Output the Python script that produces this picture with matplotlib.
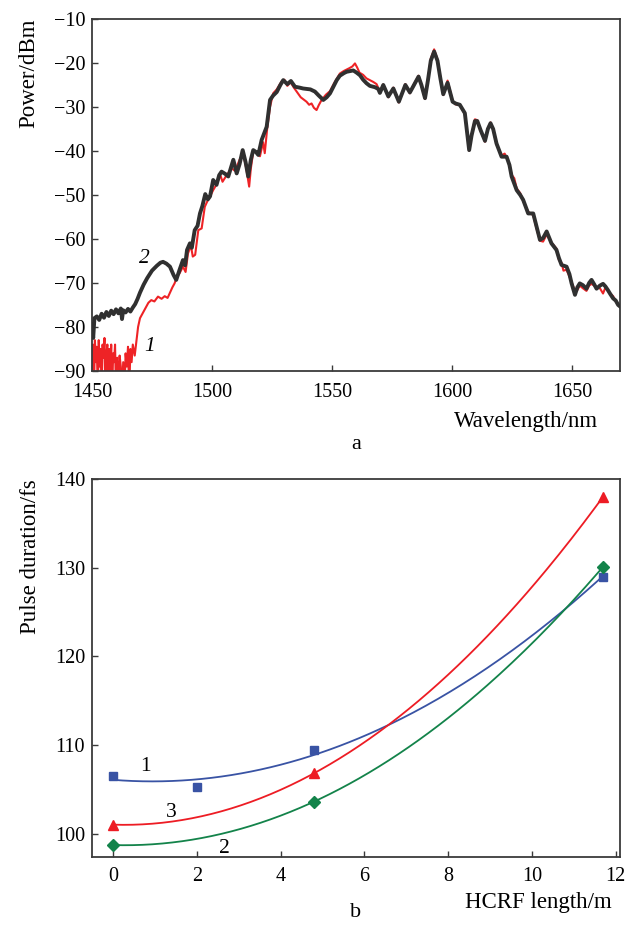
import numpy as np
import matplotlib
matplotlib.use("Agg")
import matplotlib.pyplot as plt

plt.rcParams['font.family'] = ['Liberation Serif', 'DejaVu Serif']
plt.rcParams['font.size'] = 14.5

# spectrum, curve 1 (red) and curve 2 (black)
wl1 = [1450.0, 1450.4, 1450.8, 1451.2, 1451.6, 1452.0, 1452.4, 1452.8, 1453.2, 1453.6,
       1454.0, 1454.4, 1454.8, 1455.2, 1455.6, 1456.0, 1456.4, 1456.8, 1457.2, 1457.6,
       1458.0, 1458.4, 1458.8, 1459.2, 1459.6, 1460.0, 1460.5, 1461.0, 1461.5, 1462.0,
       1462.5, 1463.0, 1463.5, 1464.0, 1464.5, 1465.0, 1465.5, 1466.0, 1466.5, 1467.0,
       1467.8, 1469.2, 1470.0, 1472.0, 1473.5, 1474.7, 1476.0, 1477.5, 1479.0, 1480.3,
       1481.5, 1482.4, 1483.5, 1484.4, 1485.5, 1486.5, 1487.9, 1489.0, 1490.0, 1491.2,
       1492.0, 1493.0, 1494.3, 1495.7, 1497.0, 1498.0, 1499.5, 1500.5, 1502.0, 1503.5,
       1504.4, 1506.0, 1508.2, 1509.5, 1510.3, 1511.5, 1513.0, 1514.3, 1515.5, 1516.2,
       1517.3, 1518.5, 1520.0, 1521.3, 1522.0, 1523.0, 1524.2, 1525.5, 1527.0, 1529.0,
       1530.2, 1531.4, 1532.8, 1534.0, 1535.3, 1537.0, 1539.4, 1540.5, 1541.5, 1542.5,
       1543.6, 1544.5, 1545.7, 1547.5, 1549.2, 1551.0, 1553.3, 1555.0, 1557.2, 1558.5,
       1559.6, 1560.5, 1561.5, 1563.0, 1564.4, 1565.8, 1567.2, 1568.6,
       1570.0, 1571.4, 1573.5, 1575.6, 1577.9, 1580.6, 1582.5, 1584.0, 1586.1, 1587.3,
       1588.8, 1590.0, 1591.2, 1592.6, 1594.0, 1595.2, 1596.4, 1598.2, 1600.3, 1601.5,
       1603.3, 1605.4, 1606.3, 1607.2, 1608.2, 1609.6, 1610.6, 1612.0, 1613.8, 1615.0,
       1616.1, 1617.2, 1618.6, 1620.7, 1622.0, 1622.8, 1624.0, 1624.9, 1626.0, 1627.0,
       1628.5, 1629.7, 1631.8, 1633.9, 1635.2, 1636.7, 1638.0, 1639.5, 1641.5, 1643.6,
       1644.6, 1645.7, 1646.5, 1647.8, 1649.0, 1649.9, 1651.3, 1652.3, 1653.3, 1654.6,
       1656.1, 1657.2, 1658.2, 1659.3, 1660.3, 1661.7, 1663.0, 1664.0, 1665.0, 1666.0,
       1667.2, 1668.3, 1669.3, 1670.0]
p1 = [-92, -84, -95, -83, -88, -84.5, -95, -83, -89, -85,
      -95, -84, -87, -82.5, -95, -86, -84, -95, -85, -90,
      -84, -95, -86, -88, -84, -95, -87, -95, -86.5, -89,
      -95, -88, -95, -86, -89, -84.5, -95, -85, -88, -84,
      -86.5, -80, -78, -76, -74.5, -73.9, -74.2, -73.1, -73.6, -73.0,
      -73.4, -72.3, -71.0, -70.1, -68.5, -67.8, -66.3, -67.5, -63.3, -61.5,
      -64, -63.6, -58, -57.6, -52.7, -51.5, -50, -48.9, -47.5, -45.5,
      -47, -45.6, -43.9, -44.5, -43.6, -42, -40.5, -44, -48.1, -44,
      -39.8, -40.5, -41.2, -38, -40.5, -35, -30, -26.9, -26, -24.2,
      -23.8, -25.2, -24.4, -25.5, -26.5, -27.8, -28.8, -29.5, -29.2, -30.2,
      -30.7, -29.6, -28.4, -27.2, -26.4, -24.5, -22.4, -21.8, -21.2, -20.8,
      -20.1, -21, -22.2, -22.7, -23.5, -23.9, -24.3, -24.8,
      -26.5, -24.9, -27.8, -25.6, -29.0, -24.8, -26.9, -25.0, -22.9, -25.2,
      -28.2, -23.8, -19.0, -16.9, -19.2, -23.3, -27.3, -24.0, -28.6, -29.4,
      -29.6, -31.6, -35.8, -39.9, -36.3, -32.8, -33.0, -35.5, -37.9, -34.8,
      -33.5, -35.2, -38.5, -41.0, -40.6, -41.5, -43.0, -45.4, -46.2, -48.5,
      -49.6, -51.4, -53.8, -54.6, -57.5, -60.4, -60.6, -59.0, -60.8, -62.2,
      -64.8, -65.4, -67.2, -67.0, -68.6, -69.8, -71.8, -71.6, -70.6, -71.2,
      -71.8, -70.6, -70.2, -70.6, -71.0, -71.2, -72.4, -71.0, -71.8, -72.4,
      -73.0, -74.2, -74.8, -75.4]

wl2 = [1450.0, 1450.5, 1451.0, 1452.0, 1453.0, 1454.0, 1455.0, 1456.0, 1457.0, 1458.0,
       1459.0, 1460.0, 1461.0, 1462.0, 1462.5, 1463.0, 1464.0, 1465.0, 1466.0, 1467.0,
       1468.0, 1469.0, 1470.0, 1471.5, 1473.0, 1475.0, 1477.0, 1478.5, 1479.6, 1481.0,
       1482.5, 1484.0, 1485.1, 1486.5, 1487.9, 1488.8, 1489.6, 1490.8, 1491.6, 1492.8,
       1494.0, 1495.0, 1496.0, 1497.2, 1498.3, 1499.2, 1500.5, 1501.9, 1503.0, 1504.0,
       1505.5, 1506.8, 1508.9, 1510.3, 1511.5, 1512.8, 1514.0, 1515.1, 1516.2, 1517.2,
       1518.3, 1519.3, 1520.7, 1522.8, 1524.2, 1525.5, 1527.0, 1528.5, 1529.7, 1531.4,
       1532.9, 1534.6, 1536.5, 1538.0, 1539.4, 1541.0, 1542.9, 1544.5, 1546.4, 1547.8,
       1549.2, 1551.0, 1552.0, 1553.3, 1555.0, 1556.1, 1558.9, 1560.3, 1561.7, 1563.0,
       1564.4, 1565.8, 1567.9, 1569.3, 1570.0, 1571.4, 1573.5, 1575.6, 1577.9, 1580.6,
       1582.5, 1584.0, 1586.1, 1587.3, 1588.8, 1590.0, 1591.2, 1592.6, 1594.0, 1595.2,
       1596.4, 1598.2, 1600.3, 1601.5, 1603.3, 1605.4, 1606.3, 1607.2, 1608.2, 1609.6,
       1610.6, 1612.0, 1613.8, 1615.0, 1616.1, 1617.2, 1618.6, 1620.7, 1622.8, 1624.0,
       1624.9, 1627.0, 1628.5, 1629.7, 1631.8, 1633.9, 1635.2, 1636.7, 1638.0, 1639.5,
       1641.5, 1643.6, 1644.6, 1645.7, 1647.8, 1649.0, 1649.9, 1651.3, 1652.3, 1653.3,
       1654.6, 1656.1, 1657.2, 1658.2, 1659.3, 1660.3, 1661.7, 1663.0, 1664.0, 1665.0,
       1666.0, 1667.2, 1668.3, 1669.3, 1670.0]
p2 = [-79.5, -82.5, -78.0, -77.6, -78.4, -77.0, -77.9, -76.6, -77.5, -76.3,
      -77.1, -76.0, -76.9, -75.8, -78.2, -76.2, -76.7, -75.9, -76.5, -75.6,
      -74.8, -73.6, -72.2, -70.4, -68.9, -67.2, -66.1, -65.4, -65.2, -65.6,
      -66.3, -68.2, -69.3, -67.0, -64.8, -66.0, -62.5, -61.0, -62.0, -58.0,
      -57.0, -54.2, -52.5, -49.8, -51.0, -50.3, -46.6, -47.7, -45.5, -44.7,
      -45.2, -45.8, -42.0, -45.1, -43.0, -39.8, -42.5, -45.8, -42.0, -39.8,
      -40.2, -40.9, -37.5, -34.5, -28.4, -27.4, -26.6, -25.0, -23.9, -24.8,
      -24.1, -25.4, -25.6, -25.8, -25.9, -26.0, -26.5, -27.4, -28.4, -27.8,
      -26.9, -25.0, -23.9, -22.9, -22.3, -22.0, -21.7, -22.2, -22.8, -23.8,
      -24.6, -25.2, -25.5, -25.9, -26.8, -25.0, -27.6, -25.8, -28.8, -25.0,
      -26.7, -25.2, -23.1, -25.0, -28.0, -24.0, -19.5, -17.4, -19.5, -23.5,
      -27.1, -24.5, -28.8, -29.2, -29.5, -31.4, -35.5, -39.8, -36.5, -33.2,
      -33.2, -35.3, -37.7, -35.0, -33.7, -35.0, -38.3, -41.3, -41.3, -43.2,
      -45.8, -48.9, -50.0, -51.1, -54.2, -54.2, -57.0, -60.2, -59.8, -58.3,
      -61.0, -62.5, -64.3, -65.9, -66.3, -68.0, -70.1, -72.7, -71.0, -70.1,
      -70.5, -71.3, -70.0, -69.3, -70.3, -71.3, -70.6, -70.2, -70.8, -71.6,
      -72.5, -73.5, -74.0, -75.0, -75.3]

# pulse duration vs HCRF length
len1 = [0, 2, 4.8, 11.7]
dur1 = [106.5, 105.2, 109.4, 129.0]
len2 = [0, 4.8, 11.7]
dur2 = [98.7, 103.6, 130.1]
len3 = [0, 4.8, 11.7]
dur3 = [101.0, 106.8, 138.0]

fig = plt.figure(figsize=(6.39, 9.26), dpi=100)
ax1 = fig.add_axes([0.144, 0.5994, 0.826, 0.3801])
ax2 = fig.add_axes([0.144, 0.0745, 0.826, 0.4082])

for ax in (ax1, ax2):
    for s in ax.spines.values():
        s.set_color('#3a3a3a')
        s.set_linewidth(1.3)
    ax.tick_params(direction='in', length=4.5, width=1, color='#3a3a3a',
                   top=False, right=False)
    ax.tick_params(axis='y', pad=5)
ax1.tick_params(axis='x', pad=9)
ax2.tick_params(axis='x', pad=7)

# --- a ---
ax1.plot(wl1, p1, color='#ee2326', lw=1.5, zorder=2)
ax1.plot(wl2, p2, color='#303030', lw=2.8, zorder=3)
ax1.set_xlim(1450, 1670)
ax1.set_ylim(-90, -10)
ax1.set_xticks([1450, 1500, 1550, 1600, 1650])
ax1.set_yticks(range(-90, 0, 10))
ax1.text(1472, -64.5, '2', style='italic', fontsize=15.5, ha='center', va='center')
ax1.text(1474, -84.5, '1', style='italic', fontsize=15.5, ha='center', va='center')
ax1.set_ylabel('Power/dBm', loc='top', labelpad=10, fontsize=16.5)
ax1.text(0.958, -0.145, 'Wavelength/nm', transform=ax1.transAxes, ha='right', va='center',
         fontsize=16.5)
ax1.text(0.5, -0.21, 'a', transform=ax1.transAxes, ha='center', va='center', fontsize=16)

# --- b ---
xs = np.linspace(0, 11.7, 200)
for xd, yd, c, m, ms in [(len1, dur1, '#3953a4', 's', 6),
                         (len3, dur3, '#ed1c24', '^', 7),
                         (len2, dur2, '#13834a', 'D', 6)]:
    k = np.polyfit(xd, yd, 2)
    ax2.plot(xs, np.polyval(k, xs), color=c, lw=1.3)
    ax2.plot(xd, yd, ls='none', marker=m, color=c, ms=ms)
ax2.set_xlim(-0.5, 12.1)
ax2.set_ylim(97.35, 140)
ax2.set_xticks(range(0, 13, 2))
ax2.set_yticks([100, 110, 120, 130, 140])
ax2.text(0.77, 107.6, '1', fontsize=15.5, ha='center', va='center')
ax2.text(1.39, 102.4, '3', fontsize=15.5, ha='center', va='center')
ax2.text(2.67, 98.3, '2', fontsize=15.5, ha='center', va='center')
ax2.set_ylabel('Pulse duration/fs', loc='top', labelpad=10, fontsize=16.5)
ax2.text(0.985, -0.12, 'HCRF length/m', transform=ax2.transAxes, ha='right', va='center',
         fontsize=16.5)
ax2.text(0.5, -0.148, 'b', transform=ax2.transAxes, ha='center', va='center', fontsize=16)

fig.savefig('out.png', dpi=100)
